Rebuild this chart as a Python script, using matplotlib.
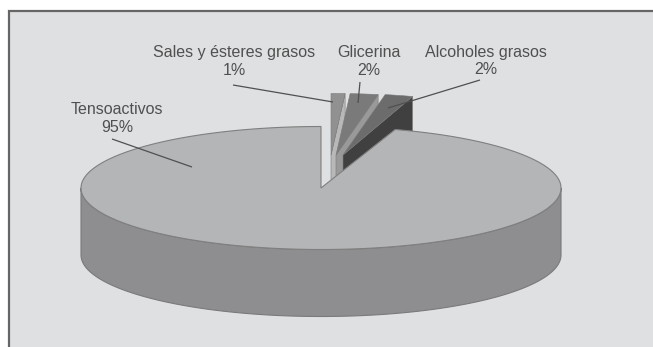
#!/usr/bin/env python
"""Exploded 3D-style pie of the composition by component."""
import numpy as np
import matplotlib
matplotlib.use("Agg")
import matplotlib.pyplot as plt
from matplotlib.patches import Polygon, Rectangle

plt.rcParams['font.family'] = ['Liberation Sans', 'DejaVu Sans']

categories = ["Sales y ésteres grasos", "Glicerina", "Alcoholes grasos", "Tensoactivos"]
shares = [1, 2, 2, 95]

W, H = 653, 347
CX, CY = 321, 188      # pie centre in pixels
RX, RY = 240, 61.5     # ellipse radii of the top face
DEPTH = 67             # height of the side wall
SMALL_RX = 225         # exploded wedges look a bit narrower

# per wedge: apex position, top face colour, wall colour
apex_x = [331, 336, 343]
apex_y = [155, 155, 155]
face_cols = ["#919191", "#7a7a7a", "#6c6c6c"]
wall_cols = ["#b8b8b8", "#999999", "#404040"]
EDGE = "#7a7a7a"

# label centre, then leader line start and end
label_pos = [(234, 61.5), (369, 61.5), (486, 61), (117, 118.5)]
leader_from = [(233, 85), (360, 82), (480, 80), (112, 139)]
leader_to = [(333, 102), (358, 103), (388, 108), (192, 167)]


def rim(cx, cy, rx, ry, a0, a1, n=60):
    """Points along the rim, angles in degrees clockwise from the back."""
    t = np.deg2rad(np.linspace(a0, a1, n))
    return np.column_stack([cx + rx * np.sin(t), cy - ry * np.cos(t)])


fig = plt.figure(figsize=(W / 100, H / 100), dpi=100, facecolor="white")
ax = fig.add_axes([0, 0, 1, 1])
ax.set_xlim(0, W)
ax.set_ylim(H, 0)
ax.axis("off")

ax.add_patch(Rectangle((9, 11), W + 10, H + 10, facecolor="#dfe0e2", edgecolor="#666666", lw=1.6))

edges = np.cumsum([0] + shares) * 3.6

# exploded wedges, back to front
for i in range(3):
    pts = rim(apex_x[i], apex_y[i], SMALL_RX, RY, edges[i], edges[i + 1])
    apex = np.array([apex_x[i], apex_y[i]])
    wall = np.array([apex, pts[-1], pts[-1] + [0, DEPTH], apex + [0, DEPTH]])
    ax.add_patch(Polygon(wall, closed=True, facecolor=wall_cols[i], edgecolor=EDGE, lw=0.4))
    ax.add_patch(Polygon(np.vstack([apex, pts]), closed=True, facecolor=face_cols[i],
                         edgecolor=EDGE, lw=0.4))

# main slice: side wall first, then the top face over it
front = rim(CX, CY, RX, RY, 90, 270, 200)
ax.add_patch(Polygon(np.vstack([front, (front + [0, DEPTH])[::-1]]), closed=True,
                     facecolor="#8e8e90", edgecolor="#7a7a7a", lw=0.8))
top = rim(CX, CY, RX, RY, edges[3], edges[4], 400)
ax.add_patch(Polygon(np.vstack([[CX, CY], top]), closed=True, facecolor="#b4b5b6",
                     edgecolor="#7f7f7f", lw=0.8))

for name, share, (tx, ty), p0, p1 in zip(categories, shares, label_pos, leader_from, leader_to):
    ax.plot([p0[0], p1[0]], [p0[1], p1[1]], color="#505050", lw=0.9, solid_capstyle="butt")
    ax.text(tx, ty, f"{name}\n{share}%", ha="center", va="center", fontsize=11.5,
            color="#505050", linespacing=1.2)

fig.savefig("out.png", dpi=100)
plt.close(fig)
